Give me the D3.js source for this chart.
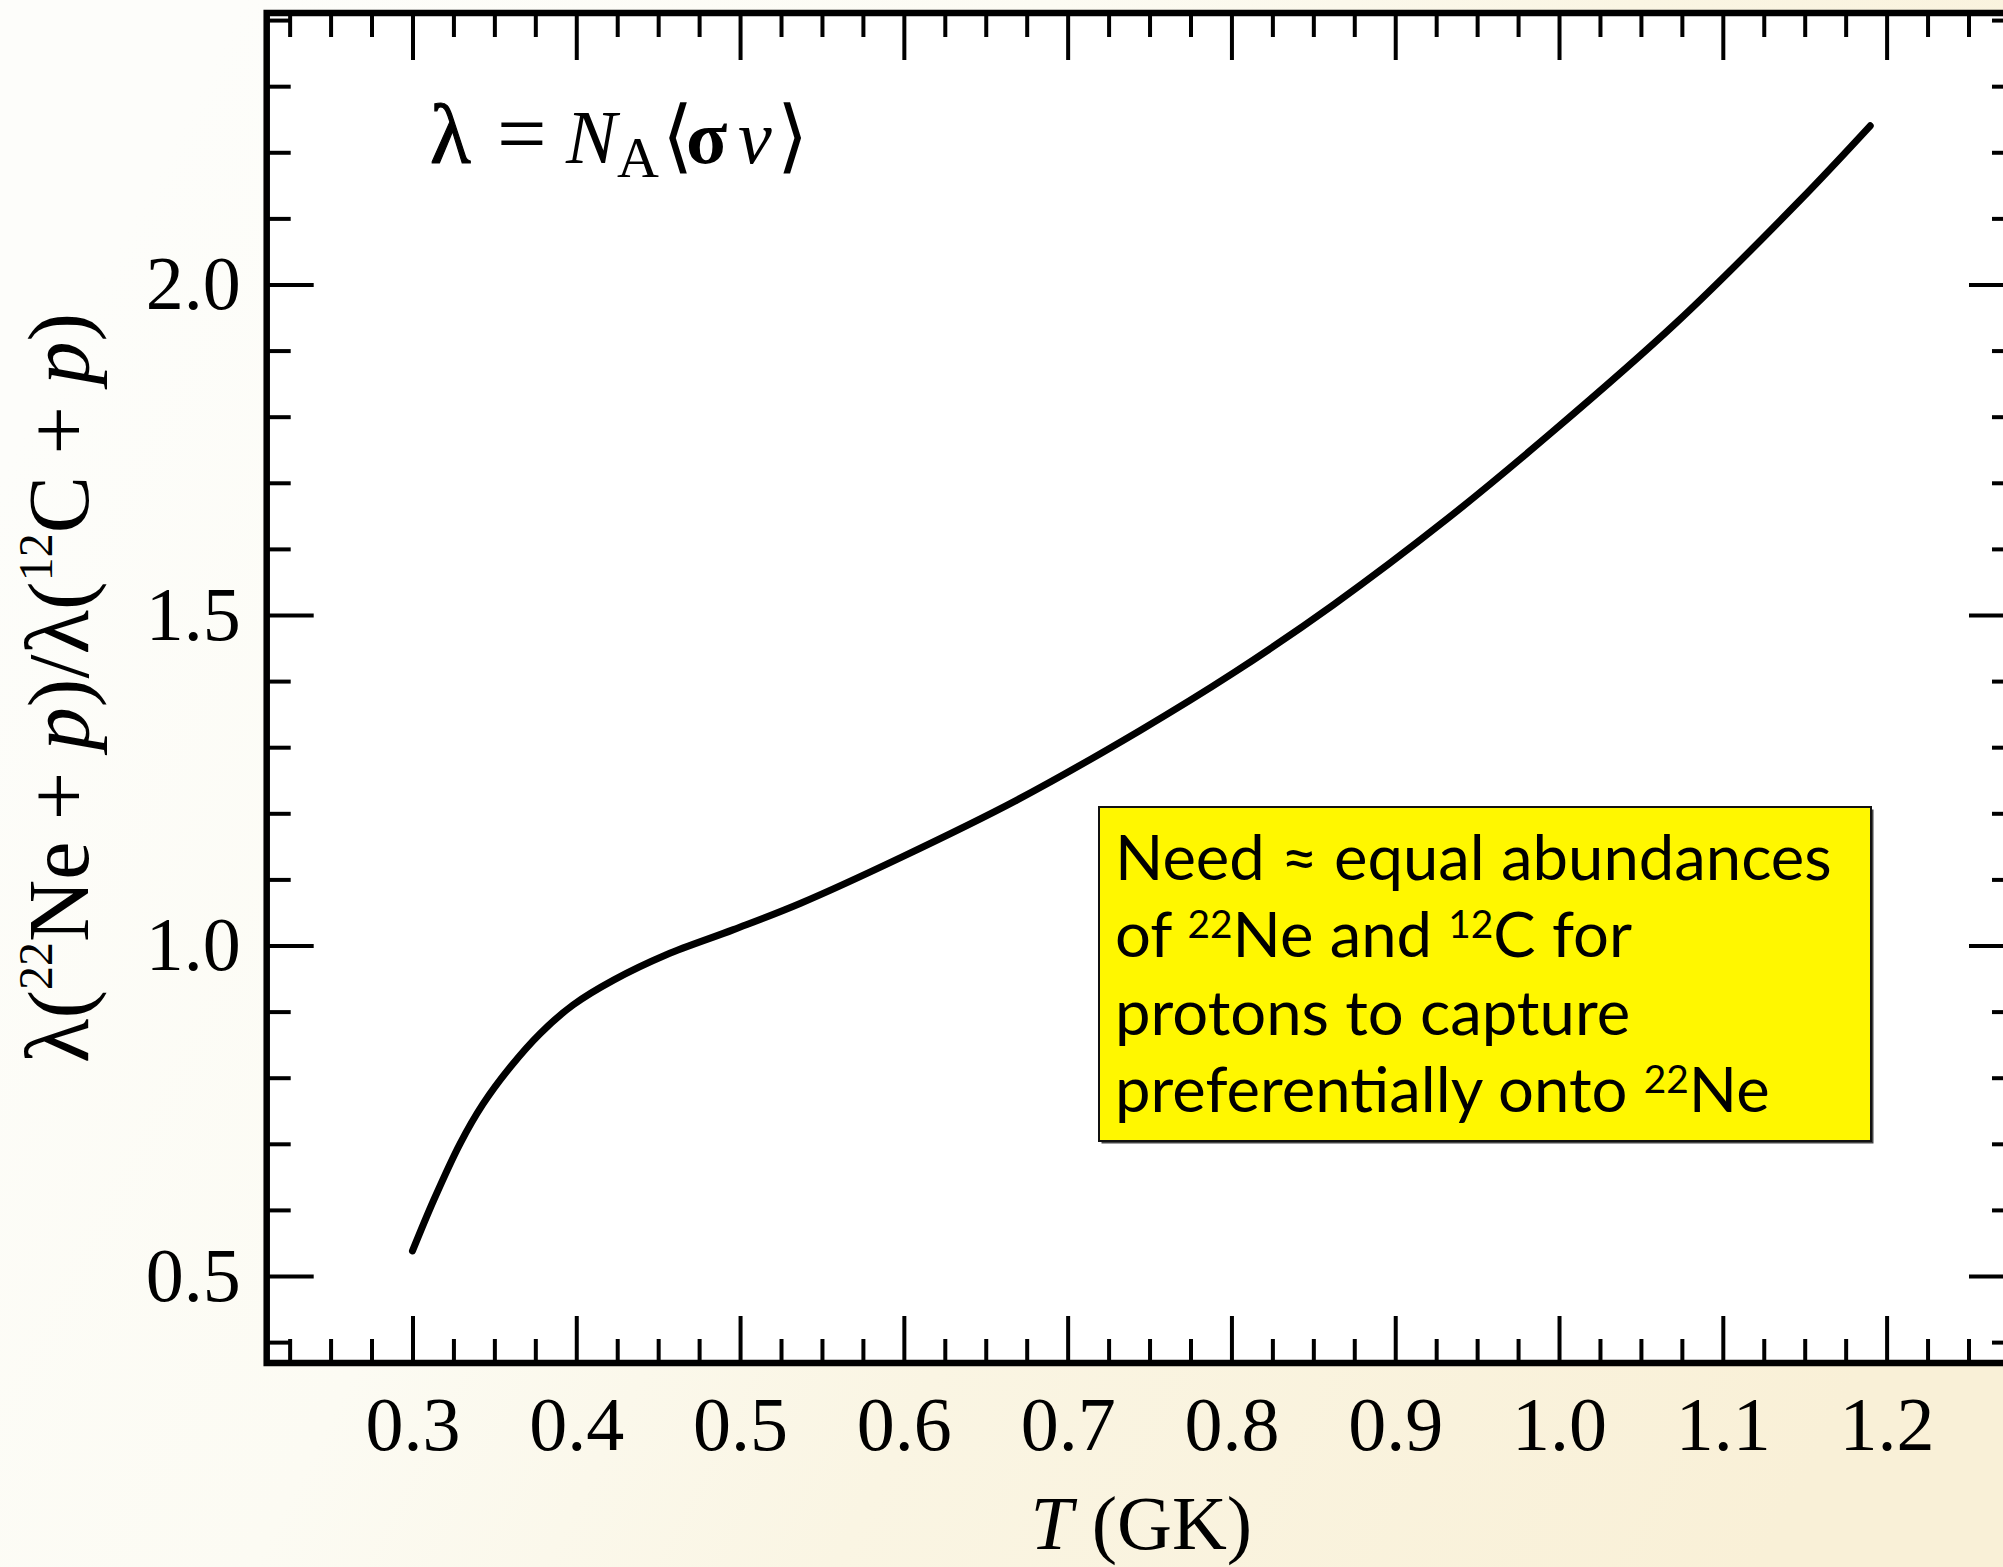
<!DOCTYPE html>
<html><head><meta charset="utf-8">
<script src="https://cdn.jsdelivr.net/npm/d3@7"></script>
<style>html,body{margin:0;padding:0;overflow:hidden;background:#fff}</style>
</head><body>
<svg id="chart" width="2003" height="1567"></svg>
<script>
// ---- data ----
const temperatures = [0.300, 0.313, 0.329, 0.343, 0.360, 0.378, 0.398, 0.423, 0.455, 0.496, 0.537, 0.598, 0.669, 0.744, 0.801, 0.862, 0.931, 0.995, 1.072, 1.147, 1.190];
const rateRatios   = [0.538, 0.615, 0.700, 0.760, 0.817, 0.867, 0.910, 0.948, 0.986, 1.024, 1.064, 1.133, 1.220, 1.325, 1.412, 1.515, 1.644, 1.775, 1.943, 2.127, 2.240];
const xTickValues = [0.3, 0.4, 0.5, 0.6, 0.7, 0.8, 0.9, 1.0, 1.1, 1.2];
const xTickLabels = ["0.3", "0.4", "0.5", "0.6", "0.7", "0.8", "0.9", "1.0", "1.1", "1.2"];
const yTickValues = [0.5, 1.0, 1.5, 2.0];
const yTickLabels = ["0.5", "1.0", "1.5", "2.0"];
const xMinorStep = 0.025;
const yMinorStep = 0.1;
const xDomain = [0.211, 1.279];
const yDomain = [0.3684, 2.4107];
const noteLines = [
  [{t: "Need \u2248 equal abundances"}],
  [{t: "of "}, {t: "22", sup: true}, {t: "Ne and "}, {t: "12", sup: true}, {t: "C for"}],
  [{t: "protons to capture"}],
  [{t: "preferentially onto "}, {t: "22", sup: true}, {t: "Ne"}]
];

// ---- layout ----
const svg = d3.select("#chart");
const L = 266.7, R = 2016, T = 13, B = 1363;
const x = d3.scaleLinear().domain(xDomain).range([L, R]);
const y = d3.scaleLinear().domain(yDomain).range([B, T]);
const serif = "'Liberation Serif', 'Times New Roman', serif";

const defs = svg.append("defs");
const g0 = defs.append("linearGradient").attr("id", "bg").attr("x1", 0).attr("y1", 0.3).attr("x2", 1).attr("y2", 0.7);
[[0, "#fdfdfa"], [0.35, "#fcfbf3"], [0.6, "#faf5e3"], [1, "#f9f0d7"]].forEach(s =>
  g0.append("stop").attr("offset", s[0]).attr("stop-color", s[1]));
svg.append("rect").attr("width", 2003).attr("height", 1567).attr("fill", "url(#bg)");

// plot area
svg.append("rect").attr("x", L).attr("y", T).attr("width", R - L).attr("height", B - T).attr("fill", "#fff");

const xMinor = d3.range(0.225, 1.2751, xMinorStep).filter(v => Math.abs(Math.round(v * 10) - v * 10) > 1e-6);
const yMinor = d3.range(0.4, 2.4001, yMinorStep).filter(v => Math.abs(Math.round(v * 2) - v * 2) > 1e-6);

function styleAxis(g) {
  g.select(".domain").remove();
  g.selectAll(".tick line").attr("stroke", "#000").attr("stroke-width", 4);
  g.selectAll("text").attr("font-family", serif).attr("font-size", 76).attr("fill", "#000");
}
const MAJ = 47, MIN = 24;
// bottom
svg.append("g").attr("transform", `translate(0,${B})`)
  .call(d3.axisBottom(x).tickValues(xTickValues).tickFormat((d, i) => xTickLabels[i]).tickSize(-MAJ).tickPadding(33))
  .call(styleAxis);
svg.append("g").attr("transform", `translate(0,${B})`)
  .call(d3.axisBottom(x).tickValues(xMinor).tickFormat("").tickSize(-MIN)).call(styleAxis);
// top
svg.append("g").attr("transform", `translate(0,${T})`)
  .call(d3.axisTop(x).tickValues(xTickValues).tickFormat("").tickSize(-MAJ)).call(styleAxis);
svg.append("g").attr("transform", `translate(0,${T})`)
  .call(d3.axisTop(x).tickValues(xMinor).tickFormat("").tickSize(-MIN)).call(styleAxis);
// left
svg.append("g").attr("transform", `translate(${L},0)`)
  .call(d3.axisLeft(y).tickValues(yTickValues).tickFormat((d, i) => yTickLabels[i]).tickSize(-MAJ).tickPadding(26))
  .call(styleAxis);
svg.append("g").attr("transform", `translate(${L},0)`)
  .call(d3.axisLeft(y).tickValues(yMinor).tickFormat("").tickSize(-MIN)).call(styleAxis);
// right
svg.append("g").attr("transform", `translate(${R},0)`)
  .call(d3.axisRight(y).tickValues(yTickValues).tickFormat("").tickSize(-MAJ)).call(styleAxis);
svg.append("g").attr("transform", `translate(${R},0)`)
  .call(d3.axisRight(y).tickValues(yMinor).tickFormat("").tickSize(-MIN)).call(styleAxis);

// frame
svg.append("rect").attr("x", L).attr("y", T).attr("width", R - L).attr("height", B - T)
  .attr("fill", "none").attr("stroke", "#000").attr("stroke-width", 6.5);

// curve
const pts = temperatures.map((t, i) => [t, rateRatios[i]]);
svg.append("path").datum(pts)
  .attr("d", d3.line().x(d => x(d[0])).y(d => y(d[1])).curve(d3.curveCatmullRom.alpha(0.5)))
  .attr("fill", "none").attr("stroke", "#000").attr("stroke-width", 7).attr("stroke-linecap", "round")
  .attr("stroke-linejoin", "round");

// formula
const f = svg.append("text").attr("y", 163).attr("font-family", serif).attr("font-size", 76).attr("fill", "#000");
f.append("tspan").attr("x", 430).attr("font-size", 84).attr("stroke", "#000").attr("stroke-width", 1.2).text("\u03bb");
f.append("tspan").attr("x", 497).attr("font-size", 88).text("=");
f.append("tspan").attr("x", 566).attr("font-style", "italic").text("N");
f.append("tspan").attr("x", 617).attr("dy", 14).attr("font-size", 58).text("A");
f.append("tspan").attr("x", 662).attr("dy", -14).attr("font-size", 80).text("\u27e8");
f.append("tspan").attr("x", 686).attr("font-weight", "bold").text("\u03c3");
f.append("tspan").attr("x", 738).attr("font-style", "italic").text("v");
f.append("tspan").attr("x", 777).attr("font-size", 80).text("\u27e9");

// x axis title
const xt = svg.append("text").attr("x", (L + R) / 2).attr("y", 1549).attr("text-anchor", "middle")
  .attr("font-family", serif).attr("font-size", 76).attr("fill", "#000");
xt.append("tspan").attr("font-style", "italic").text("T");
xt.append("tspan").text(" (GK)");

// y axis title
const yt = svg.append("text").attr("transform", `translate(88,${(T + B) / 2}) rotate(-90)`)
  .attr("text-anchor", "middle").attr("font-family", serif).attr("font-size", 86).attr("fill", "#000");
const SUP = 48, RAISE = 36;
yt.append("tspan").attr("font-size", 92).text("\u03bb");
yt.append("tspan").text("(");
yt.append("tspan").attr("font-size", SUP).attr("dy", -RAISE).text("22");
yt.append("tspan").attr("dy", RAISE).text("Ne\u2005+\u2005");
yt.append("tspan").attr("font-style", "italic").text("p");
yt.append("tspan").text(")/");
yt.append("tspan").attr("font-size", 92).text("\u03bb");
yt.append("tspan").text("(");
yt.append("tspan").attr("font-size", SUP).attr("dy", -RAISE).text("12");
yt.append("tspan").attr("dy", RAISE).text("C\u2005+\u2005");
yt.append("tspan").attr("font-style", "italic").text("p");
yt.append("tspan").text(")");

// annotation box
const bx = 1099, by = 807, bw = 772, bh = 334;
svg.append("rect").attr("x", bx + 2.5).attr("y", by + 2.5).attr("width", bw).attr("height", bh).attr("fill", "#444");
svg.append("rect").attr("x", bx).attr("y", by).attr("width", bw).attr("height", bh)
  .attr("fill", "#fff700").attr("stroke", "#111").attr("stroke-width", 2);
const note = svg.append("g");
const baseY = [880, 957, 1035, 1112];
const lineEls = noteLines.map((parts, i) => {
  const t = note.append("text").attr("x", 1115).attr("y", baseY[i])
    .attr("font-family", "Lato, 'Open Sans', sans-serif").attr("font-size", 62).attr("fill", "#000");
  let raised = false;
  parts.forEach(p => {
    const s = t.append("tspan").text(p.t);
    if (p.sup) { s.attr("font-size", 38).attr("dy", -19); raised = true; }
    else if (raised) { s.attr("dy", 19); raised = false; }
  });
  return t;
});
const w1 = lineEls[0].node().getBBox().width;
const k = 717 / w1;
lineEls.forEach(t => t.attr("transform", `translate(${1115 * (1 - k)},0) scale(${k},1)`));
</script>
</body></html>
